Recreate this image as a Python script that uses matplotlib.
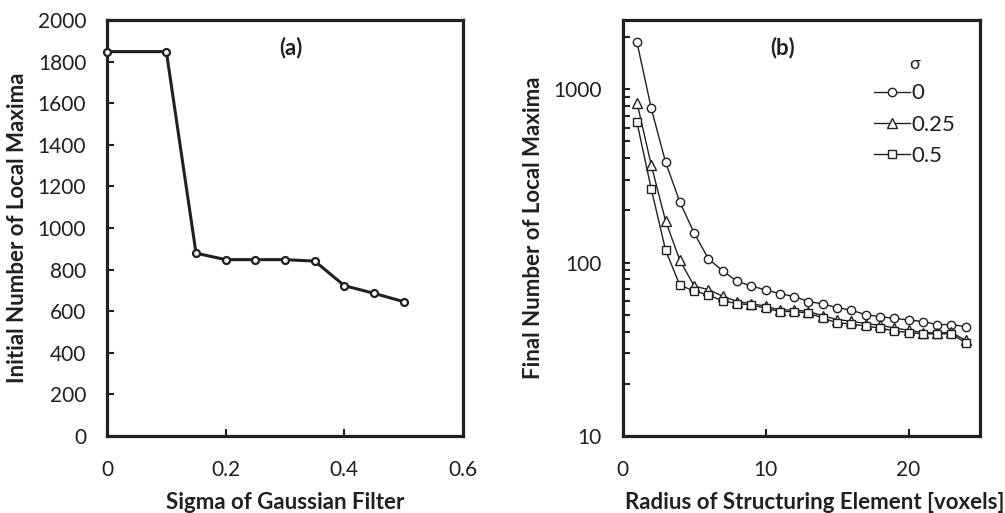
import matplotlib
matplotlib.use("Agg")
import matplotlib.pyplot as plt
from matplotlib.ticker import LogLocator, NullFormatter, FixedLocator

plt.rcParams['font.family'] = ['Lato', 'DejaVu Sans']

# Panel (a) data
sigma_a = [0, 0.1, 0.15, 0.2, 0.25, 0.3, 0.35, 0.4, 0.45, 0.5]
initial_maxima = [1848, 1848, 879, 848, 848, 848, 841, 723, 686, 646]

# Panel (b) data
radius = list(range(1, 25))
final_s0 = [1858, 773, 379, 223, 148, 105, 89.5, 78, 73.3, 69.5, 66.2, 63.7,
            59.6, 57.7, 55, 53.1, 50.1, 48.8, 47.7, 46.7, 45.7, 43.9, 43.9, 42.7]
final_s025 = [834, 364, 174, 103, 73.3, 69.8, 64, 59.6, 58, 56, 53.3, 53.3,
              52.2, 49.4, 46.9, 45.9, 44.5, 43.5, 42, 40.7, 39.5, 39.3, 39.6, 35.6]
final_s05 = [642, 265, 118, 74, 68.6, 65, 60.1, 58, 57, 54.5, 52.2, 52.2,
             51.1, 47.9, 44.9, 44.3, 43, 41.9, 40.4, 39.5, 38.8, 38.8, 38.8, 34.5]
legend_labels = ['0', '0.25', '0.5']

ink = '#231F20'
fig = plt.figure(figsize=(10.05, 5.13), dpi=100)
ax1 = fig.add_axes([0.1065, 0.150, 0.3542, 0.811])
ax2 = fig.add_axes([0.6196, 0.150, 0.3555, 0.811])

for ax in (ax1, ax2):
    for s in ax.spines.values():
        s.set_linewidth(2.3)
        s.set_color(ink)
    ax.tick_params(direction='in', length=5, width=1.5, colors=ink,
                   labelsize=15, top=False, right=False)
    ax.tick_params(axis='y', pad=15)
    ax.tick_params(axis='x', pad=17)

# Panel (a)
ax1.plot(sigma_a, initial_maxima, color=ink, lw=2.2, marker='o', ms=5,
         mfc='white', mec=ink, mew=1.6, clip_on=False, zorder=3)
ax1.set_xlim(0, 0.6)
ax1.set_ylim(0, 2000)
ax1.set_xticks([0, 0.2, 0.4, 0.6])
ax1.set_xticklabels(['0', '0.2', '0.4', '0.6'])
ax1.set_yticks(range(0, 2001, 200))
ax1.set_xlabel('Sigma of Gaussian Filter', fontsize=16, fontweight='bold',
               color=ink, labelpad=9)
ax1.set_ylabel('Initial Number of Local Maxima', fontsize=16,
               fontweight='bold', color=ink, labelpad=7)
ax1.text(0.517, 0.935, '(a)', transform=ax1.transAxes, ha='center',
         va='center', fontsize=16, fontweight='bold', color=ink)

# Panel (b)
series = [final_s0, final_s025, final_s05]
markers = ['o', '^', 's']
sizes = [6, 6.5, 6]
for vals, m, ms, lab in zip(series, markers, sizes, legend_labels):
    ax2.plot(radius, vals, color=ink, lw=1.0, marker=m, ms=ms, mfc='white',
             mec=ink, mew=1.0, label=lab)
ax2.set_yscale('log')
ax2.set_xlim(0, 25)
ax2.set_ylim(10, 2500)
ax2.set_xticks([0, 10, 20])
ax2.set_xticklabels(['0', '10', '20'])
ax2.yaxis.set_major_locator(FixedLocator([10, 100, 1000]))
ax2.set_yticklabels(['10', '100', '1000'])
ax2.yaxis.set_minor_locator(LogLocator(base=10, subs=range(2, 10), numticks=20))
ax2.yaxis.set_minor_formatter(NullFormatter())
ax2.tick_params(axis='y', which='minor', direction='in', length=5, width=1.5,
                colors=ink)
ax2.set_xlabel('Radius of Structuring Element [voxels]', fontsize=16,
               fontweight='bold', color=ink, labelpad=9, x=0.538)
ax2.set_ylabel('Final Number of Local Maxima', fontsize=16,
               fontweight='bold', color=ink, labelpad=7)
ax2.text(0.449, 0.935, '(b)', transform=ax2.transAxes, ha='center',
         va='center', fontsize=16, fontweight='bold', color=ink)
leg = ax2.legend(loc='upper left', bbox_to_anchor=(0.66, 0.95), frameon=False,
                 title='σ', fontsize=16, title_fontsize=13,
                 handlelength=1.6, handletextpad=0.1, labelspacing=0.5,
                 borderpad=0.2)
for t in leg.get_texts():
    t.set_color(ink)
leg.get_title().set_color(ink)

fig.savefig('out.png', dpi=100)
